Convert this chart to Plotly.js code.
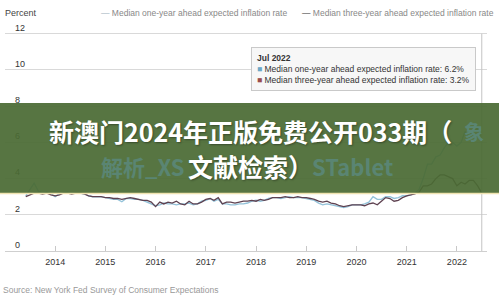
<!DOCTYPE html>
<html>
<head>
<meta charset="utf-8">
<script src="https://cdn.plot.ly/plotly-3.0.1.min.js"></script>
<style>
html,body{margin:0;padding:0;background:#fff;}
#chart{width:499px;height:296px;}
</style>
</head>
<body>
<div id="chart"></div>
<script>
// ---- data ----
const startMonth = '2013-06';
const seriesNames = ['Median one-year ahead expected inflation rate', 'Median three-year ahead expected inflation rate'];
const oneYear = [
  3.05, 3.40, 3.75, 3.30, 3.20, 3.25, 3.15,
  3.00, 3.15, 3.20, 3.25, 3.20, 3.20, 3.20, 3.15, 3.05, 3.00, 3.00, 3.00,
  2.95, 2.90, 2.85, 2.85, 2.72, 2.90, 2.90, 2.85, 2.85, 2.80, 2.70, 2.60,
  2.50, 2.55, 2.65, 2.60, 2.60, 2.55, 2.60, 2.60, 2.65, 2.55, 2.60, 2.75,
  2.80, 2.90, 2.75, 2.85, 2.60, 2.60, 2.55, 2.55, 2.60, 2.60, 2.65, 2.75,
  2.80, 2.75, 2.80, 2.90, 2.95, 2.95, 2.90, 2.95, 3.00, 2.95, 2.95, 2.95,
  2.90, 2.85, 2.80, 2.65, 2.55, 2.60, 2.55, 2.50, 2.45, 2.40, 2.45, 2.55,
  2.55, 2.55, 2.60, 2.70, 3.00, 2.85, 2.85, 3.00, 3.00, 2.90, 2.95, 3.05,
  3.05, 3.10, 3.20, 3.40, 4.00, 4.80, 4.80, 5.20, 5.30, 5.70, 6.00, 6.00,
  5.80, 6.00, 6.60, 6.30, 6.60, 6.80, 6.20
];
const threeYear = [
  3.00, 3.10, 3.20, 3.20, 3.15, 3.20, 3.10,
  3.05, 3.10, 3.20, 3.20, 3.15, 3.20, 3.20, 3.15, 3.05, 3.00, 3.00, 3.00,
  2.95, 2.95, 2.90, 2.90, 2.85, 2.90, 2.95, 2.90, 2.85, 2.80, 2.80, 2.70,
  2.45, 2.70, 2.60, 2.70, 2.65, 2.75, 2.60, 2.55, 2.75, 2.60, 2.60, 2.70,
  2.85, 2.90, 2.80, 2.95, 2.60, 2.70, 2.70, 2.65, 2.70, 2.75, 2.75, 2.80,
  2.75, 2.85, 2.80, 2.85, 2.95, 2.95, 2.95, 3.00, 2.95, 2.95, 3.00, 2.95,
  2.95, 2.90, 2.85, 2.75, 2.70, 2.75, 2.65, 2.60, 2.50, 2.45, 2.50, 2.55,
  2.55, 2.55, 2.50, 2.60, 2.65, 2.55, 2.75, 2.95, 2.90, 2.75, 2.80, 2.95,
  3.05, 3.10, 3.15, 3.25, 3.60, 3.60, 3.70, 4.00, 4.20, 4.20, 4.10, 4.00,
  3.60, 3.80, 3.70, 3.90, 3.90, 3.60, 3.20
];
const yTickVals = [0, 2, 4, 6, 8, 10, 12];
const yTickText = ['0', '2', '4', '6', '8', '10', '12'];
const xTickYears = ['2014','2015','2016','2017','2018','2019','2020','2021','2022'];
const bannerLine1 = '新澳门2024年正版免费公开033期（';
const bannerLine2 = '文献检索）';
const watermarkLeft = '解析_XS';
const watermarkRight = 'STablet';
const watermarkTop = '象';
const yTitle = 'Percent';
const sourceText = 'Source: New York Fed Survey of Consumer Expectations';
const tooltipTitle = 'Jul 2022';

// month dates
const dates = [];
{
  let [yy, mm] = startMonth.split('-').map(Number);
  for (let i = 0; i < oneYear.length; i++) {
    dates.push(yy + '-' + String(mm).padStart(2, '0') + '-01');
    mm++; if (mm > 12) { mm = 1; yy++; }
  }
}

// ---- geometry helpers (pixels -> paper) ----
const W = 499, H = 296;
const mL = 5, mR = 12, mT = 12, mB = 45;
const pw = W - mL - mR, ph = H - mT - mB;
const px = x => (x - mL) / pw;
const py = y => (H - mB - y) / ph;

const colOne = '#93c2d9';
const colThree = '#5e4150';
const font = 'Liberation Sans, Arial, sans-serif';
const cjk = 'Noto Sans CJK SC, sans-serif';
const wmColor = '#5a8573';

const traces = [
  {x: dates, y: oneYear, name: seriesNames[0], type: 'scatter', mode: 'lines',
   line: {color: colOne, width: 1.4}, hoverinfo: 'skip'},
  {x: dates, y: threeYear, name: seriesNames[1], type: 'scatter', mode: 'lines',
   line: {color: colThree, width: 1.3}, hoverinfo: 'skip'}
];

const lastDate = dates[dates.length - 1];
const lastOne = oneYear[oneYear.length - 1];
const lastThree = threeYear[threeYear.length - 1];
const yMax = yTickVals[yTickVals.length - 1];

const annotations = [
  {xref: 'paper', yref: 'paper', x: px(3), y: py(13), xanchor: 'left', yanchor: 'middle',
   text: yTitle, showarrow: false, font: {family: font, size: 9, color: '#444'}},
  {xref: 'paper', yref: 'paper', x: px(99), y: py(13), xanchor: 'left', yanchor: 'middle',
   text: '<span style="color:#9ab0bd">—</span> ' + seriesNames[0], showarrow: false,
   font: {family: font, size: 8.5, color: '#888'}},
  {xref: 'paper', yref: 'paper', x: px(300), y: py(13), xanchor: 'left', yanchor: 'middle',
   text: '<span style="color:#333">—</span> ' + seriesNames[1], showarrow: false,
   font: {family: font, size: 8.5, color: '#888'}},
  {xref: 'paper', yref: 'paper', x: px(1), y: py(290), xanchor: 'left', yanchor: 'middle',
   text: sourceText, showarrow: false, font: {family: font, size: 8.5, color: '#999'}},
  // tooltip
  {xref: 'paper', yref: 'paper', x: px(251), y: py(47), xanchor: 'left', yanchor: 'top',
   align: 'left', showarrow: false, bgcolor: '#f7f7f7', bordercolor: '#c9c9c9', borderwidth: 1, borderpad: 5,
   text: '<b>' + tooltipTitle + '</b><br>' +
         '<span style="color:#6da7c6">■</span> ' + seriesNames[0] + ': ' + lastOne.toFixed(1) + '%<br>' +
         '<span style="color:#9a4c4c">■</span> ' + seriesNames[1] + ': ' + lastThree.toFixed(1) + '%',
   font: {family: font, size: 8.5, color: '#333'}},
  // watermark (faint) under banner text
  {xref: 'paper', yref: 'paper', x: px(143), y: py(166), xanchor: 'center', yanchor: 'middle',
   text: '<b>' + watermarkLeft + '</b>', showarrow: false, font: {family: cjk, size: 22, color: wmColor}},
  {xref: 'paper', yref: 'paper', x: px(352), y: py(166), xanchor: 'center', yanchor: 'middle',
   text: '<b>' + watermarkRight + '</b>', showarrow: false, font: {family: cjk, size: 22, color: wmColor}},
  {xref: 'paper', yref: 'paper', x: px(474), y: py(131), xanchor: 'center', yanchor: 'middle',
   text: '<b>' + watermarkTop + '</b>', showarrow: false, font: {family: cjk, size: 20, color: wmColor}},
  // banner text
  {xref: 'paper', yref: 'paper', x: px(250), y: py(131), xanchor: 'center', yanchor: 'middle',
   text: '<b>' + bannerLine1 + '</b>', showarrow: false,
   font: {family: cjk, size: 25, color: '#ffffff', shadow: '1px 1px 2px rgba(0,0,0,0.35)'}},
  {xref: 'paper', yref: 'paper', x: px(250), y: py(166), xanchor: 'center', yanchor: 'middle',
   text: '<b>' + bannerLine2 + '</b>', showarrow: false,
   font: {family: cjk, size: 25, color: '#ffffff', shadow: '1px 1px 2px rgba(0,0,0,0.35)'}}
];

const shapes = [
  // hover crosshair
  {type: 'line', xref: 'x', yref: 'y', x0: lastDate, x1: lastDate, y0: 0, y1: yMax,
   line: {color: '#c4c4c4', width: 1}, layer: 'above'},
  // banner
  {type: 'rect', xref: 'paper', yref: 'paper', x0: px(0), x1: px(W), y0: py(193), y1: py(103),
   fillcolor: 'rgba(74,107,52,0.93)', line: {width: 0}, layer: 'above'},
  {type: 'line', xref: 'paper', yref: 'paper', x0: px(0), x1: px(W), y0: py(193.5), y1: py(193.5),
   line: {color: '#efe3b0', width: 1.5}, layer: 'above'}
];

const layout = {
  width: W, height: H,
  margin: {l: mL, r: mR, t: mT, b: mB, pad: 0},
  paper_bgcolor: '#ffffff', plot_bgcolor: 'rgba(0,0,0,0)',
  showlegend: false,
  hovermode: false,
  font: {family: font, size: 9, color: '#333'},
  xaxis: {
    type: 'date', range: ['2013-01-01', '2022-08-08'],
    tickvals: xTickYears.map(y => y + '-01-01'), ticktext: xTickYears,
    ticks: 'inside', ticklen: 5, tickcolor: '#c8c8c8', tickwidth: 1,
    showgrid: false, zeroline: false, showline: false,
    tickfont: {family: font, size: 9, color: '#333'}, ticklabelstandoff: 4,
    fixedrange: true
  },
  yaxis: {
    range: [0, 13.2], tickvals: yTickVals, ticktext: yTickText,
    ticklabelposition: 'inside top', ticklabelstandoff: 7,
    showgrid: true, gridcolor: '#d9d9d9', gridwidth: 1,
    zeroline: true, zerolinecolor: '#cfcfcf', zerolinewidth: 1,
    showline: false, ticks: '',
    tickfont: {family: font, size: 9, color: '#333'},
    fixedrange: true
  },
  annotations: annotations,
  shapes: shapes
};

Plotly.newPlot('chart', traces, layout, {staticPlot: true, displayModeBar: false});
</script>
</body>
</html>
